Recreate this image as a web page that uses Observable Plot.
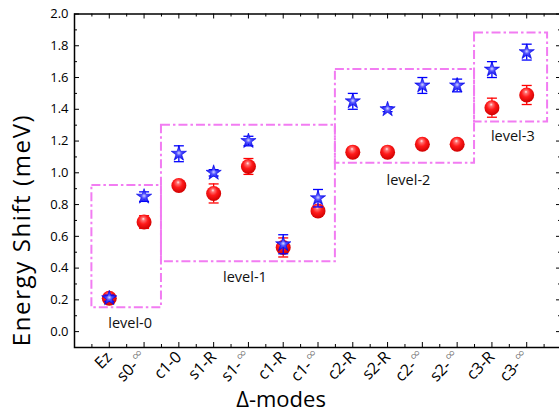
<!DOCTYPE html>
<html>
<head>
<meta charset="utf-8">
<script src="https://cdn.jsdelivr.net/npm/d3@7"></script>
<script src="https://cdn.jsdelivr.net/npm/@observablehq/plot@0.6"></script>
<style>
  html, body { margin: 0; padding: 0; background: #fff; }
  svg { font-family: "Open Sans", "Noto Sans", sans-serif; }
</style>
</head>
<body>
<div id="chart"></div>
<script>
const modes = ["Ez","s0-∞","c1-0","s1-R","s1-∞","c1-R","c1-∞","c2-R","s2-R","c2-∞","s2-∞","c3-R","c3-∞"];
const redVals = [0.21,0.69,0.92,0.87,1.04,0.53,0.76,1.13,1.13,1.18,1.18,1.41,1.49];
const redErr  = [0.02,0.04,0.02,0.06,0.05,0.06,0.03,0.02,0.02,0.02,0.02,0.06,0.06];
const blueVals = [0.21,0.85,1.12,1.00,1.20,0.55,0.84,1.45,1.40,1.55,1.55,1.65,1.76];
const blueErr  = [0.02,0.03,0.05,0.02,0.03,0.06,0.055,0.05,0.015,0.05,0.04,0.05,0.05];

const levels = ["level-0","level-1","level-2","level-3"];
const boxStart = [-0.5, 1.5, 6.5, 10.5];
const boxEnd   = [1.5, 6.5, 10.5, 12.6];
const boxLow   = [0.15, 0.44, 1.06, 1.32];
const boxHigh  = [0.92, 1.30, 1.65, 1.88];
const labelPos = [0.6, 3.9, 8.6, 11.6];
const labelVal = [0.05, 0.34, 0.95, 1.23];

const yTitle = "Energy Shift (meV)";
const xTitle = "Δ-modes";

const yTicks = d3.range(0, 11).map(i => i / 5);
const yAll = d3.range(1, 21).map(i => i / 10);
const yMinor = yAll.filter((v, i) => i % 2 === 0);
const xIdx = d3.range(modes.length);
const xMinor = d3.range(0, 14).map(i => i - 0.5);

const red = modes.map((m, i) => ({i, v: redVals[i], e: redErr[i]}));
const blue = modes.map((m, i) => ({i, v: blueVals[i], e: blueErr[i]}));
const boxes = levels.map((l, k) => ({l, x1: boxStart[k], x2: boxEnd[k], y1: boxLow[k], y2: boxHigh[k], tx: labelPos[k], ty: labelVal[k]}));

const W = 559, H = 420, mL = 74, mR = -2, mT = 13.5, mB = 73;
const pw = W - mL - mR, ph = H - mT - mB;

const capSymbol = {draw(ctx) { ctx.moveTo(-5, 0); ctx.lineTo(5, 0); }};

const defs = () => {
  const ns = "http://www.w3.org/2000/svg";
  const g = document.createElementNS(ns, "defs");
  g.innerHTML = `
    <radialGradient id="redBall" cx="45%" cy="40%" r="60%" fx="45%" fy="28%">
      <stop offset="0%" stop-color="#fff0f0"/>
      <stop offset="18%" stop-color="#ff7070"/>
      <stop offset="50%" stop-color="#ff1a1a"/>
      <stop offset="100%" stop-color="#d00000"/>
    </radialGradient>
    <radialGradient id="blueStar" cx="50%" cy="50%" r="55%">
      <stop offset="0%" stop-color="#d0d4ff"/>
      <stop offset="30%" stop-color="#5050ff"/>
      <stop offset="100%" stop-color="#0000e0"/>
    </radialGradient>`;
  return g;
};

const chart = Plot.plot({
  width: W, height: H,
  marginLeft: mL, marginRight: mR, marginTop: mT, marginBottom: mB,
  x: {type: "linear", domain: [-1, 13], axis: null},
  y: {domain: [-0.1, 2.0], axis: null},
  style: {fontFamily: "'Open Sans', 'Noto Sans', sans-serif", color: "#000", background: "#fff"},
  marks: [
    defs,
    // level boxes
    Plot.rect(boxes, {x1: "x1", x2: "x2", y1: "y1", y2: "y2", fill: "none", stroke: "#f27cf2", strokeWidth: 2, strokeDasharray: "9,3,2.5,3"}),
    Plot.text(boxes, {x: "tx", y: "ty", text: "l", fontSize: 14.5, fill: "#111"}),
    // ticks inward
    Plot.ruleY(yTicks, {y: d => d, insetRight: pw - 5, stroke: "#000", strokeWidth: 1}),
    Plot.ruleY(yMinor, {y: d => d, insetRight: pw - 3, stroke: "#000", strokeWidth: 1}),
    Plot.ruleY(yTicks, {y: d => d, insetLeft: pw - 5, stroke: "#000", strokeWidth: 1}),
    Plot.ruleY(yMinor, {y: d => d, insetLeft: pw - 3, stroke: "#000", strokeWidth: 1}),
    Plot.ruleX(xIdx, {x: d => d, insetTop: ph - 5, stroke: "#000", strokeWidth: 1}),
    Plot.ruleX(xMinor, {x: d => d, insetTop: ph - 3, stroke: "#000", strokeWidth: 1}),
    Plot.ruleX(xIdx, {x: d => d, insetBottom: ph - 5, stroke: "#000", strokeWidth: 1}),
    Plot.ruleX(xMinor, {x: d => d, insetBottom: ph - 3, stroke: "#000", strokeWidth: 1}),
    // axes labels
    Plot.axisY({ticks: yTicks, tickFormat: d => d.toFixed(1), tickSize: 0, tickPadding: 6, fontSize: 13, label: null}),
    Plot.axisX({ticks: xIdx, tickFormat: i => modes[i], tickRotate: -45, tickSize: 0, tickPadding: 7, fontSize: 16, label: null}),
    Plot.text([yTitle], {x: -1, y: 0.64, dx: -52, rotate: -90, fontSize: 24, fill: "#000", className: "ytitle"}),
    Plot.text([xTitle], {frameAnchor: "bottom", dx: -37, dy: 59, fontSize: 22, fill: "#000"}),
    // red series
    Plot.ruleX(red, {x: "i", y1: d => d.v - d.e, y2: d => d.v + d.e, stroke: "#ff0000", strokeWidth: 1.3}),
    Plot.dot(red, {x: "i", y: d => d.v - d.e, symbol: capSymbol, stroke: "#ff0000", strokeWidth: 1.3, r: 4}),
    Plot.dot(red, {x: "i", y: d => d.v + d.e, symbol: capSymbol, stroke: "#ff0000", strokeWidth: 1.3, r: 4}),
    Plot.dot(red, {x: "i", y: "v", r: 7.5, fill: "url(#redBall)", stroke: "none"}),
    // blue series
    Plot.ruleX(blue, {x: "i", y1: d => d.v - d.e, y2: d => d.v + d.e, stroke: "#0000ff", strokeWidth: 1.3}),
    Plot.dot(blue, {x: "i", y: d => d.v - d.e, symbol: capSymbol, stroke: "#0000ff", strokeWidth: 1.3, r: 4}),
    Plot.dot(blue, {x: "i", y: d => d.v + d.e, symbol: capSymbol, stroke: "#0000ff", strokeWidth: 1.3, r: 4}),
    Plot.dot(blue, {x: "i", y: "v", symbol: "star", r: 4.8, fill: "url(#blueStar)", stroke: "#0000ee", strokeWidth: 0.6}),
    Plot.frame({stroke: "#000", strokeWidth: 1.5})
  ]
});

// wider letter spacing on the y title, as in the reference
d3.select(chart).selectAll(".ytitle text").style("letter-spacing", "1.6px");

// render the infinity sign lighter and raised, as in the reference
d3.select(chart).selectAll("[aria-label='x-axis tick label'] text").each(function() {
  const t = this.textContent;
  if (t.includes("∞")) {
    const base = t.replace("∞", "");
    const sel = d3.select(this);
    sel.text(null);
    sel.append("tspan").text(base);
    sel.append("tspan").attr("font-size", 15).attr("font-weight", 300).attr("fill", "#666").attr("dx", 2).attr("dy", "-0.3em").text("∞");
  }
});

document.getElementById("chart").appendChild(chart);
</script>
</body>
</html>
